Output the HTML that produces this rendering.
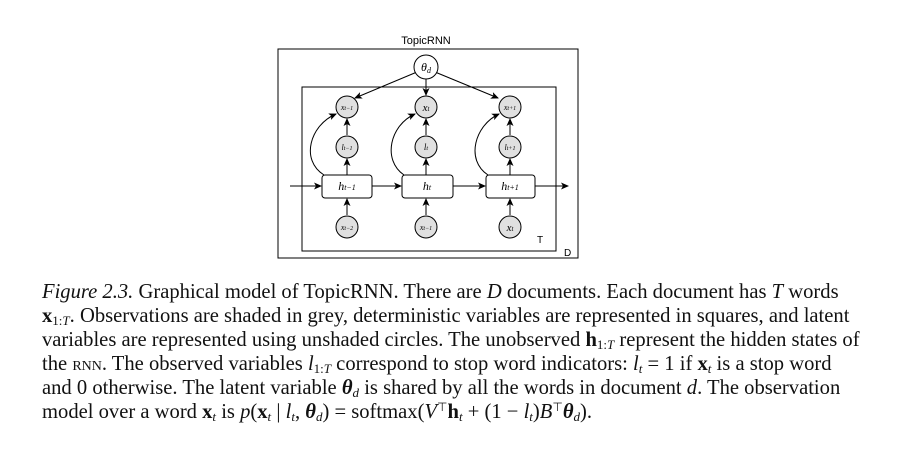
<!DOCTYPE html>
<html><head><meta charset="utf-8"><style>
body{margin:0;width:909px;height:453px;background:#fff;position:relative;overflow:hidden;font-family:"Liberation Serif",serif;}
.l{position:absolute;left:42px;width:781px;font-size:20.6px;line-height:24px;height:24px;text-align:justify;text-align-last:justify;white-space:nowrap;color:#111;}
.l.last{text-align-last:left;}
i{font-style:italic}
sub{font-size:13px;vertical-align:-3px;line-height:0}
sup{font-size:12px;vertical-align:7px;line-height:0}
.sc{font-variant:small-caps}
</style></head><body>
<svg width="909" height="270" style="position:absolute;left:0;top:0" font-family="Liberation Serif,serif">
<defs><marker id="a" markerWidth="8" markerHeight="8" refX="7" refY="4" orient="auto" markerUnits="userSpaceOnUse"><path d="M0,0.5 L8,4 L0,7.5 L2,4z" fill="#000"/></marker></defs>
<text x="426" y="44" font-family="Liberation Sans,sans-serif" font-size="11" text-anchor="middle">TopicRNN</text>
<rect x="278" y="49" width="300" height="209" fill="none" stroke="#000" stroke-width="1"/>
<rect x="302" y="87" width="254" height="164" fill="none" stroke="#000" stroke-width="1"/>
<text x="537" y="243" font-family="Liberation Sans,sans-serif" font-size="10">T</text>
<text x="564" y="256" font-family="Liberation Sans,sans-serif" font-size="10">D</text>
<g stroke="#000" stroke-width="1" fill="none" marker-end="url(#a)">
<line x1="417" y1="72" x2="355" y2="98"/>
<line x1="426" y1="79" x2="426" y2="95"/>
<line x1="435" y1="72" x2="498" y2="98"/>
<line x1="347" y1="175" x2="347" y2="159"/><line x1="347" y1="135" x2="347" y2="119"/>
<line x1="426" y1="175" x2="426" y2="159"/><line x1="426" y1="135" x2="426" y2="119"/>
<line x1="510" y1="175" x2="510" y2="159"/><line x1="510" y1="135" x2="510" y2="119"/>
<line x1="347" y1="215" x2="347" y2="199"/><line x1="426" y1="215" x2="426" y2="199"/><line x1="510" y1="215" x2="510" y2="199"/>
<line x1="290" y1="186" x2="321" y2="186"/>
<line x1="372" y1="186" x2="401" y2="186"/>
<line x1="453" y1="186" x2="485" y2="186"/>
<line x1="535" y1="186" x2="568" y2="186"/>
<path d="M324,175 C300,160 310,125 336,114"/>
<path d="M404,175 C382,160 390,125 415,114"/>
<path d="M488,175 C465,160 475,125 499,114"/>
</g>
<circle cx="426" cy="67" r="12" fill="#fff" stroke="#000"/>
<text x="426" y="71" font-size="12" font-style="italic" text-anchor="middle">θ<tspan font-size="8" dy="2">d</tspan></text>
<g fill="#e0e0e0" stroke="#000">
<circle cx="347" cy="107" r="11"/><circle cx="426" cy="107" r="11"/><circle cx="510" cy="107" r="11"/>
<circle cx="347" cy="147" r="11"/><circle cx="426" cy="147" r="11"/><circle cx="510" cy="147" r="11"/>
<circle cx="347" cy="227" r="11"/><circle cx="426" cy="227" r="11"/><circle cx="510" cy="227" r="11"/>
</g>
<g fill="#fff" stroke="#000">
<rect x="322" y="175" width="50" height="23" rx="3"/>
<rect x="402" y="175" width="51" height="23" rx="3"/>
<rect x="486" y="175" width="49" height="23" rx="3"/>
</g>
<g font-style="italic" text-anchor="middle">
<text x="347" y="110" font-size="8">x<tspan font-size="6">t−1</tspan></text>
<text x="426" y="111" font-size="11">x<tspan font-size="7">t</tspan></text>
<text x="510" y="110" font-size="8">x<tspan font-size="6">t+1</tspan></text>
<text x="347" y="150" font-size="8">l<tspan font-size="6">t−1</tspan></text>
<text x="426" y="150" font-size="9">l<tspan font-size="6">t</tspan></text>
<text x="510" y="150" font-size="8">l<tspan font-size="6">t+1</tspan></text>
<text x="347" y="190" font-size="12">h<tspan font-size="8">t−1</tspan></text>
<text x="427" y="190" font-size="12">h<tspan font-size="8">t</tspan></text>
<text x="510" y="190" font-size="12">h<tspan font-size="8">t+1</tspan></text>
<text x="347" y="230" font-size="8">x<tspan font-size="6">t−2</tspan></text>
<text x="426" y="230" font-size="8">x<tspan font-size="6">t−1</tspan></text>
<text x="510" y="231" font-size="11">x<tspan font-size="7">t</tspan></text>
</g>
</svg>
<div class="l" style="top:280px"><i>Figure 2.3.</i> Graphical model of TopicRNN. There are <i>D</i> documents. Each document has <i>T</i> words</div>
<div class="l" style="top:304px"><b>x</b><sub>1:<i>T</i></sub>. Observations are shaded in grey, deterministic variables are represented in squares, and latent</div>
<div class="l" style="top:328px">variables are represented using unshaded circles. The unobserved <b>h</b><sub>1:<i>T</i></sub> represent the hidden states of</div>
<div class="l" style="top:352px">the <span class="sc">rnn</span>. The observed variables <i>l</i><sub>1:<i>T</i></sub> correspond to stop word indicators: <i>l<sub>t</sub></i> = 1 if <b>x</b><sub><i>t</i></sub> is a stop word</div>
<div class="l" style="top:376px">and 0 otherwise. The latent variable <b><i>θ</i></b><sub><i>d</i></sub> is shared by all the words in document <i>d</i>. The observation</div>
<div class="l last" style="top:400px">model over a word <b>x</b><sub><i>t</i></sub> is <i>p</i>(<b>x</b><sub><i>t</i></sub> | <i>l<sub>t</sub></i>, <b><i>θ</i></b><sub><i>d</i></sub>) = softmax(<i>V</i><sup>⊤</sup><b>h</b><sub><i>t</i></sub> + (1 − <i>l<sub>t</sub></i>)<i>B</i><sup>⊤</sup><b><i>θ</i></b><sub><i>d</i></sub>).</div>
</body></html>
